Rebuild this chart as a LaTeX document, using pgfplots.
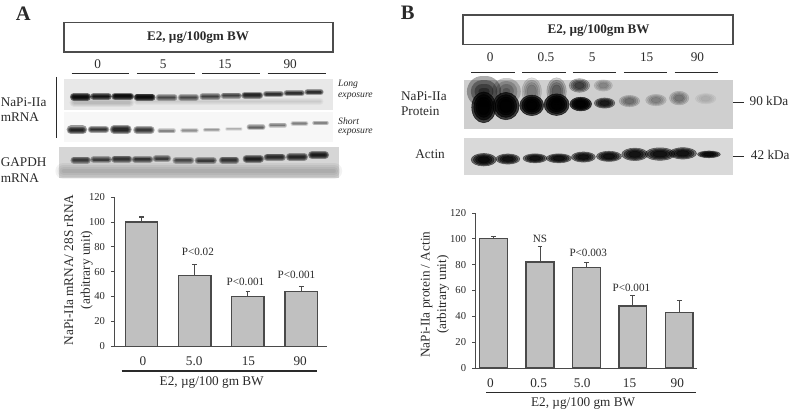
\documentclass[border=0pt]{standalone}
\usepackage{fontspec}
\setmainfont{Liberation Serif}
\usepackage{pgfplots}
\pgfplotsset{compat=1.18}

\definecolor{ink}{HTML}{2A2A2A}
\definecolor{barfill}{HTML}{C0C0C0}
\definecolor{barline}{HTML}{4A4A4A}

% soft band: x0 x1 y height opacity colour (all in reference pixels)
\newcommand{\band}[6]{%
  \pgfmathsetmacro{\ba}{#1+0.4*#4}\pgfmathsetmacro{\bb}{#2-0.4*#4}%
  \addplot[draw=#6,opacity=#5,line cap=round,line width=1.4*#4*0.75pt] coordinates {(\ba,#3)(\bb,#3)};
  \addplot[draw=#6,opacity=#5,line cap=round,line width=1.05*#4*0.75pt] coordinates {(\ba,#3)(\bb,#3)};
  \addplot[draw=#6,opacity=#5,line cap=round,line width=0.7*#4*0.75pt] coordinates {(\ba,#3)(\bb,#3)};
  \addplot[draw=#6,opacity=#5,line cap=round,line width=0.35*#4*0.75pt] coordinates {(\ba,#3)(\bb,#3)};
}
% soft blob: xc yc w h opacity colour
\newcommand{\blobl}[7]{%
  \addplot[only marks,mark=*,mark size=0.375pt,mark options={draw=none,fill=#6,opacity=#5,xscale=#3*#7,yscale=#4*#7}] coordinates {(#1,#2)};
}
\newcommand{\blob}[6]{%
  \blobl{#1}{#2}{#3}{#4}{#5}{#6}{1.15}
  \blobl{#1}{#2}{#3}{#4}{#5}{#6}{0.95}
  \blobl{#1}{#2}{#3}{#4}{#5}{#6}{0.75}
  \blobl{#1}{#2}{#3}{#4}{#5}{#6}{0.55}
}
\newcommand{\panel}[5]{%
  \addplot[draw=none,fill=#5] coordinates {(#1,#3)(#2,#3)(#2,#4)(#1,#4)} -- cycle;
}
\newcommand{\rulepx}[4]{%
  \addplot[draw=ink,line width=0.8pt] coordinates {(#1,#3)(#2,#4)};
}
\newcommand{\lab}[3]{\node[text=ink,font=\fontsize{10}{12}\selectfont] at (axis cs:#1,#2) {#3};}
\newcommand{\labl}[3]{\node[text=ink,anchor=west,inner sep=0pt,font=\fontsize{10}{12}\selectfont] at (axis cs:#1,#2) {#3};}
\newcommand{\labs}[3]{\node[text=ink,anchor=west,inner sep=0pt,font=\fontsize{7.3}{9}\selectfont\itshape] at (axis cs:#1,#2) {#3};}

\pgfplotsset{
  barpanel/.style={
    scale only axis,
    axis x line=bottom, axis y line=left,
    axis line style={-,draw=barline,line width=0.8pt},
    ymin=0, ymax=120, ytick={0,20,...,120},
    tick style={draw=barline,line width=0.6pt},
    x tick style={draw=none},
    major tick length=2.5pt,
    tick align=outside,
    /pgf/number format/assume math mode=true,
    yticklabel style={text=ink,font=\fontsize{8}{9}\selectfont,xshift=-1pt},
    xticklabel style={text=ink,font=\fontsize{10}{12}\selectfont,yshift=-2pt},
    ybar, clip=false,
  },
  barstyle/.style={
    fill=barfill,draw=barline,line width=1pt,
    error bars/.cd,y dir=plus,y explicit,
    error bar style={draw=barline,line width=0.8pt},
    error mark options={rotate=90,mark size=1.8pt,draw=barline,line width=0.8pt},
  },
}

\begin{document}
\begin{tikzpicture}
% the whole page, in reference pixels
\begin{axis}[
  name=canvas, at={(0pt,0pt)}, anchor=south west,
  scale only axis, width=595.5pt, height=310.5pt,
  xmin=0, xmax=794, ymin=0, ymax=414, y dir=reverse,
  hide axis, clip=false, no markers,
]
\panel{0}{794}{0}{414}{white}

% --- panel A blots
\panel{64.3}{335}{79}{110.7}{black!9}
\panel{64.3}{335}{113}{143}{black!3}
\panel{59.3}{340.7}{147.7}{179}{black!16}
\band{59.3}{340.7}{172}{12}{0.05}{black}

% long exposure
\band{72}{90}{97.3}{5.5}{0.5}{black}
\band{92.3}{111}{97}{5}{0.45}{black}
\band{113.7}{133.3}{97}{5.5}{0.5}{black}
\band{136}{155}{97.7}{5}{0.5}{black}
\band{158}{177.3}{98}{4.5}{0.25}{black}
\band{180.3}{199}{98}{4.5}{0.25}{black}
\band{202}{221}{97}{4.5}{0.27}{black}
\band{223.3}{242}{96.3}{4.5}{0.27}{black}
\band{244.3}{263.3}{95.7}{5}{0.36}{black}
\band{266}{284.3}{94.7}{4.5}{0.32}{black}
\band{286.7}{305.3}{93.7}{4.5}{0.32}{black}
\band{307.7}{324.3}{92.7}{4.5}{0.33}{black}
\band{72}{133}{103}{7}{0.05}{black}
\band{136}{324}{102}{5}{0.03}{black}

% short exposure
\band{69}{85.7}{130.7}{6.5}{0.38}{black}
\band{90}{108.3}{130.3}{5.5}{0.33}{black}
\band{112.3}{130.7}{130.3}{6}{0.36}{black}
\band{135.7}{154}{131}{5.5}{0.3}{black}
\band{159.3}{176}{131.7}{3.5}{0.14}{black}
\band{182.3}{199}{131.3}{3.5}{0.12}{black}
\band{205}{221}{130.7}{3}{0.11}{black}
\band{227.3}{243.3}{129.7}{2.5}{0.08}{black}
\band{249.3}{266}{128}{4}{0.2}{black}
\band{271}{287.7}{126}{3.5}{0.16}{black}
\band{293.3}{309.3}{124.3}{3.5}{0.15}{black}
\band{315}{330}{123.7}{3.5}{0.14}{black}

% GAPDH
\band{72.3}{90}{161}{5}{0.28}{black}
\band{92.3}{111}{160.7}{5}{0.27}{black}
\band{113.3}{131.7}{160}{5}{0.3}{black}
\band{134}{152.7}{160.3}{5}{0.3}{black}
\band{155}{170.7}{159.7}{5}{0.27}{black}
\band{175}{194}{161.3}{5}{0.24}{black}
\band{197.3}{216.7}{161.7}{5}{0.28}{black}
\band{221.7}{239.3}{161}{5}{0.3}{black}
\band{245.7}{264}{159.7}{5.5}{0.38}{black}
\band{266.7}{286}{158.3}{5.5}{0.33}{black}
\band{289.3}{308.3}{157.7}{5.5}{0.35}{black}
\band{311.7}{329.3}{156}{6}{0.4}{black}

% labels, A
\rulepx{56.7}{56.7}{77.3}{138.7}
\addplot[draw=black!70,fill=white,line width=1.1pt] coordinates {(64.3,22.7)(335,22.7)(335,52.3)(64.3,52.3)} -- cycle;
\node[text=ink,font=\fontsize{9.9}{12}\selectfont\bfseries] at (axis cs:199.3,38) {E2, µg/100gm BW};
\node[text=ink,font=\fontsize{15.5}{18}\selectfont\bfseries] at (axis cs:23.5,13.5) {A};
\lab{98.3}{65}{0}\lab{164.3}{65}{5}\lab{226.3}{65}{15}\lab{292}{65}{90}
\rulepx{72}{130}{74}{74}\rulepx{137.7}{195.7}{74}{74}\rulepx{203.7}{261.7}{74}{74}\rulepx{269.3}{327.7}{74}{74}
\labl{0.5}{102.3}{NaPi-IIa}\labl{0.5}{118.3}{mRNA}
\labl{0.5}{163.3}{GAPDH}\labl{0.5}{179.3}{mRNA}
\labs{340}{85}{Long}\labs{340}{97.3}{exposure}
\labs{340}{121.7}{Short}\labs{340}{133.3}{exposure}

% --- panel B blots
\panel{467}{737.7}{80.7}{129.7}{black!19}
\panel{467}{737.7}{139.3}{176.3}{black!15}

% smear above the heavy bands
\band{480}{494}{92}{22}{0.32}{black}
\band{501}{518}{92}{20}{0.2}{black}
\band{552}{548}{92}{14}{0.0}{black}
\blob{535}{92}{17}{24}{0.12}{black}
\blob{560}{92}{17}{24}{0.18}{black}
\blob{583}{86}{18}{12}{0.25}{black}
\blob{607}{86}{16}{10}{0.1}{black}
% bands
\blob{486.7}{108}{21}{27}{0.7}{black}
\blob{509}{106.7}{23}{24}{0.7}{black}
\blob{535}{106}{21}{18}{0.7}{black}
\blob{560}{105.3}{22}{19}{0.7}{black}
\blob{584.3}{104.7}{19}{12}{0.7}{black}
\blob{608.3}{103.7}{18}{9}{0.4}{black}
\blob{633.3}{101.7}{18}{10}{0.14}{black}
\blob{660}{100.7}{18}{10}{0.11}{black}
\blob{683.3}{98.7}{17}{12}{0.13}{black}
\blob{710}{99.3}{18}{9}{0.04}{black}

% actin
\blob{486.7}{160.7}{22}{11}{0.5}{black}
\blob{511}{160}{21}{9}{0.45}{black}
\blob{538.3}{159.3}{21}{8}{0.45}{black}
\blob{562.3}{159.3}{22}{8}{0.45}{black}
\blob{587}{158}{21}{9}{0.45}{black}
\blob{612.7}{157.3}{22}{9}{0.45}{black}
\blob{638.7}{155.3}{23}{11}{0.45}{black}
\blob{664}{155}{26}{11}{0.45}{black}
\blob{687}{154.3}{24}{10}{0.45}{black}
\blob{713.3}{155.3}{20}{6}{0.5}{black}

% labels, B
\addplot[draw=black!70,fill=white,line width=1.1pt] coordinates {(466,15.3)(737.7,15.3)(737.7,44.7)(466,44.7)} -- cycle;
\node[text=ink,font=\fontsize{9.9}{12}\selectfont\bfseries] at (axis cs:602.3,30.7) {E2, µg/100gm BW};
\node[text=ink,font=\fontsize{15.5}{18}\selectfont\bfseries] at (axis cs:410.3,12.5) {B};
\lab{493.3}{57.3}{0}\lab{549.3}{57.3}{0.5}\lab{595.7}{57.3}{5}\lab{650.7}{57.3}{15}\lab{701.7}{57.3}{90}
\rulepx{474}{517.7}{72.7}{72.7}\rulepx{525.3}{569}{72.7}{72.7}\rulepx{576.3}{620}{72.7}{72.7}\rulepx{627.7}{671.3}{72.7}{72.7}\rulepx{678.7}{722.3}{72.7}{72.7}
\labl{403.3}{96.7}{NaPi-IIa}\labl{403.3}{112.3}{Protein}
\labl{417.7}{155}{Actin}
\rulepx{737.7}{748.3}{103}{103}\rulepx{737.7}{748.3}{157.3}{157.3}
\lab{773.7}{101.7}{90 kDa}\lab{775}{155.7}{42 kDa}

% text and rules below the bar charts
\rulepx{122.3}{319.3}{373.3}{373.3}
\lab{213}{385}{E2, µg/100 gm BW}
\node[rotate=90,text=ink,align=center,font=\fontsize{10}{12.5}\selectfont] at (axis cs:79,271.7) {NaPi-IIa mRNA/ 28S rRNA\\(arbitrary unit)};
\rulepx{489.3}{700.7}{395.3}{395.3}
\lab{586.7}{405.7}{E2, µg/100 gm BW}
\node[rotate=90,text=ink,align=center,font=\fontsize{10}{12.5}\selectfont] at (axis cs:437.5,296.5) {NaPi-IIa protein / Actin\\(arbitrary unit)};
\end{axis}

% bar chart A
\begin{axis}[
  barpanel,
  at={(86.25pt,49.275pt)}, anchor=south west,
  width=160.725pt, height=112.5pt,
  xmin=-0.509, xmax=3.489, bar width=24.4pt,
  xtick={0.03,0.99,2.01,2.98}, xticklabels={0,5.0,15,90},
]
\addplot[barstyle] coordinates {(0,100) +- (0,4) (1,57) +- (0,9) (2,40) +- (0,4) (3,44) +- (0,4)};
\node[text=ink,font=\fontsize{8.4}{10}\selectfont] at (axis cs:1.06,76) {P<0.02};
\node[text=ink,font=\fontsize{8.4}{10}\selectfont] at (axis cs:1.953,51.7) {P<0.001};
\node[text=ink,font=\fontsize{8.4}{10}\selectfont] at (axis cs:2.91,57.6) {P<0.001};
\end{axis}

% bar chart B
\begin{axis}[
  barpanel,
  at={(358.725pt,32.775pt)}, anchor=south west,
  width=167.55pt, height=117pt,
  xmin=-0.394, xmax=4.393, bar width=21pt,
  xtick={-0.07,0.97,1.91,2.93,3.96}, xticklabels={0,0.5,5.0,15,90},
]
\addplot[barstyle] coordinates {(0,100) +- (0,1.5) (1,82) +- (0,12) (2,78) +- (0,4) (3,48) +- (0,8) (4,43) +- (0,9)};
\node[text=ink,font=\fontsize{8.4}{10}\selectfont] at (axis cs:1,100.2) {NS};
\node[text=ink,font=\fontsize{8.4}{10}\selectfont] at (axis cs:2.04,89.2) {P<0.003};
\node[text=ink,font=\fontsize{8.4}{10}\selectfont] at (axis cs:2.97,62) {P<0.001};
\end{axis}
\end{tikzpicture}
\end{document}
